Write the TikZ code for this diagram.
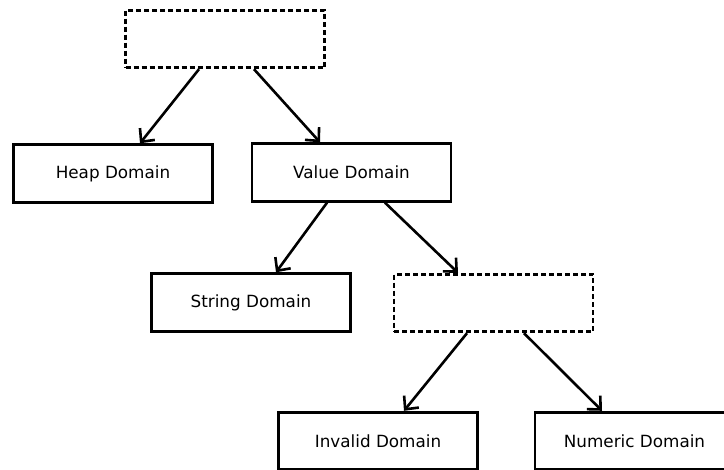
\documentclass[tikz,border=0pt]{standalone}
\usepackage{fontspec}
\setmainfont{DejaVu Sans}
\usetikzlibrary{arrows.meta}
\begin{document}
\begin{tikzpicture}[x=1pt,y=-1pt,
  domainbox/.style={draw=black, line width=2.9pt, minimum width=199pt, minimum height=57.5pt,
    inner sep=0pt, font=\fontsize{16.8}{20}\selectfont},
  abstractbox/.style={domainbox, dash pattern=on 5pt off 3pt},
  link/.style={line width=2.6pt, -{Straight Barb[length=10pt,width=19pt,line width=2.6pt]}}]
  \useasboundingbox[fill=white] (0,0) rectangle (724,470);

  % hierarchy of domains
  \node[abstractbox] (root) at (225,39) {};
  \node[domainbox] (heap) at (113,173.5) {Heap Domain};
  \node[domainbox] (value) at (351.5,172.5) {Value Domain};
  \node[domainbox] (string) at (251,302.5) {String Domain};
  \node[abstractbox] (scalar) at (493.5,303) {};
  \node[domainbox] (invalid) at (378,441) {Invalid Domain};
  \node[domainbox] (numeric) at (634.5,441) {Numeric Domain};

  % parent-to-child links
  \draw[link] ([xshift=-26pt]root.south) -- ([xshift=27pt]heap.north);
  \draw[link] ([xshift=29pt]root.south) -- ([xshift=-31.5pt]value.north);
  \draw[link] ([xshift=-24.5pt]value.south) -- ([xshift=25pt]string.north);
  \draw[link] ([xshift=33.5pt]value.south) -- ([xshift=-35.5pt]scalar.north);
  \draw[link] ([xshift=-26.5pt]scalar.south) -- ([xshift=26pt]invalid.north);
  \draw[link] ([xshift=30.5pt]scalar.south) -- ([xshift=-32.5pt]numeric.north);
\end{tikzpicture}
\end{document}
